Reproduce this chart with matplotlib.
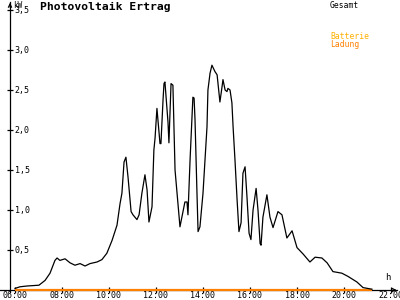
import numpy as np
import matplotlib
matplotlib.use("Agg")
import matplotlib.pyplot as plt

# Gesamt (kW) over the day
hours = [6.00, 6.21, 6.51, 7.02, 7.28, 7.49, 7.70, 7.79, 7.91, 8.13, 8.34, 8.55,
         8.77, 8.98, 9.19, 9.49, 9.70, 9.91, 10.13, 10.34, 10.47, 10.55, 10.64,
         10.72, 10.81, 10.94, 11.02, 11.19, 11.28, 11.40, 11.53, 11.62, 11.70,
         11.83, 11.91, 11.96, 12.04, 12.17, 12.21, 12.30, 12.34, 12.38, 12.51,
         12.55, 12.64, 12.72, 12.81, 13.02, 13.23, 13.32, 13.36, 13.45, 13.57,
         13.62, 13.66, 13.74, 13.79, 13.87, 14.00, 14.17, 14.21, 14.30, 14.38,
         14.51, 14.60, 14.72, 14.81, 14.85, 14.94, 15.02, 15.06, 15.15, 15.23,
         15.28, 15.36, 15.45, 15.53, 15.62, 15.70, 15.79, 15.87, 15.96, 16.04,
         16.13, 16.26, 16.34, 16.43, 16.47, 16.55, 16.72, 16.85, 16.98, 17.19,
         17.36, 17.57, 17.79, 18.00, 18.26, 18.55, 18.77, 19.06, 19.28, 19.53,
         19.91, 20.17, 20.55, 20.81, 21.19]
gesamt = [0.02, 0.04, 0.05, 0.06, 0.12, 0.21, 0.37, 0.40, 0.37, 0.39, 0.34, 0.31,
          0.33, 0.30, 0.33, 0.35, 0.38, 0.46, 0.62, 0.81, 1.08, 1.21, 1.60,
          1.66, 1.41, 0.98, 0.94, 0.88, 0.94, 1.21, 1.44, 1.25, 0.85,
          1.04, 1.75, 1.90, 2.27, 1.83, 1.83, 2.38, 2.58, 2.60, 2.10,
          1.84, 2.58, 2.56, 1.50, 0.79, 1.10, 1.10, 0.94, 1.63, 2.41,
          2.40, 2.13, 1.25, 0.73, 0.79, 1.21, 2.04, 2.50, 2.71, 2.81,
          2.73, 2.69, 2.35, 2.54, 2.63, 2.50, 2.48, 2.52, 2.50, 2.34,
          2.04, 1.63, 1.13, 0.73, 0.84, 1.46, 1.54, 1.17, 0.71, 0.63,
          1.00, 1.27, 1.00, 0.58, 0.56, 0.91, 1.19, 0.91, 0.78, 0.98,
          0.94, 0.65, 0.74, 0.53, 0.45, 0.35, 0.41, 0.40, 0.34, 0.23,
          0.21, 0.17, 0.10, 0.03, 0.01]

# Batterie Ladung stays at zero
ladung_hours = [6.0, 21.2]
ladung = [0.0, 0.0]

xticks = [6, 8, 10, 12, 14, 16, 18, 20, 22]
xticklabels = ["06:00", "08:00", "10:00", "12:00", "14:00", "16:00", "18:00", "20:00", "22:00"]
yticks = [0.5, 1.0, 1.5, 2.0, 2.5, 3.0, 3.5]
yticklabels = ["0,5", "1,0", "1,5", "2,0", "2,5", "3,0", "3,5"]

mono = "DejaVu Sans Mono"
px_per_h = 23.5
px_per_kw = 80.0
xmin = 6 - 15 / px_per_h
xmax = 6 + 385 / px_per_h
ymin = -10 / px_per_kw
ymax = 290 / px_per_kw
yaxis_x = 6 - 5 / px_per_h
xaxis_end = 6 + 382 / px_per_h

fig = plt.figure(figsize=(4, 3), dpi=100)
ax = fig.add_axes([0, 0, 1, 1])
ax.set_xlim(xmin, xmax)
ax.set_ylim(ymin, ymax)

ax.spines["top"].set_visible(False)
ax.spines["right"].set_visible(False)
ax.spines["left"].set_position(("data", yaxis_x))
ax.spines["bottom"].set_position(("data", 0))
ax.spines["left"].set_bounds(-0.02, 3.6)
ax.spines["bottom"].set_bounds(xmin, xaxis_end)
for s in ("left", "bottom"):
    ax.spines[s].set_linewidth(0.9)

# arrow heads on the axes
ax.annotate("", xy=(yaxis_x, ymax), xytext=(yaxis_x, 3.5),
            arrowprops=dict(arrowstyle="->", lw=0.8, color="black", mutation_scale=6),
            annotation_clip=False)
ax.annotate("", xy=(xaxis_end + 0.1, 0), xytext=(xaxis_end - 0.3, 0),
            arrowprops=dict(arrowstyle="->", lw=0.8, color="black", mutation_scale=6),
            annotation_clip=False)

ax.set_xticks(xticks)
ax.set_xticklabels(xticklabels, fontfamily=mono, fontsize=6)
ax.set_yticks(yticks)
ax.set_yticklabels(yticklabels, fontfamily=mono, fontsize=6)
ax.tick_params(axis="x", direction="inout", length=4, width=0.9, pad=-1)
ax.tick_params(axis="y", direction="inout", length=4, width=0.9, pad=-5.5)
for lab in ax.get_yticklabels():
    lab.set_horizontalalignment("left")

ax.plot(ladung_hours, ladung, color="#ff8000", lw=1.6, solid_capstyle="butt", zorder=3)
ax.plot(hours, gesamt, color="black", lw=0.9, zorder=4)

# labels in pixel positions
ax.text(13 / 400, 1 - 1 / 300, "kW", transform=ax.transAxes, fontfamily=mono,
        fontsize=5.5, va="top", ha="left")
ax.text(385 / 400, 1 - 278 / 300, "h", transform=ax.transAxes, fontfamily=mono,
        fontsize=6.5, va="center", ha="left")
ax.text(40 / 400, 1 - 7 / 300, "Photovoltaik Ertrag", transform=ax.transAxes,
        fontfamily=mono, fontsize=8.2, fontweight="bold", va="center", ha="left")
ax.text(330 / 400, 1 - 5 / 300, "Gesamt", transform=ax.transAxes, fontfamily=mono,
        fontsize=5.8, va="center", ha="left", color="black")
ax.text(330 / 400, 1 - 36.5 / 300, "Batterie", transform=ax.transAxes, fontfamily=mono,
        fontsize=5.8, va="center", ha="left", color="#ffb000")
ax.text(330 / 400, 1 - 44.5 / 300, "Ladung", transform=ax.transAxes, fontfamily=mono,
        fontsize=5.8, va="center", ha="left", color="#ff8000")

fig.savefig("out.png", dpi=100)
